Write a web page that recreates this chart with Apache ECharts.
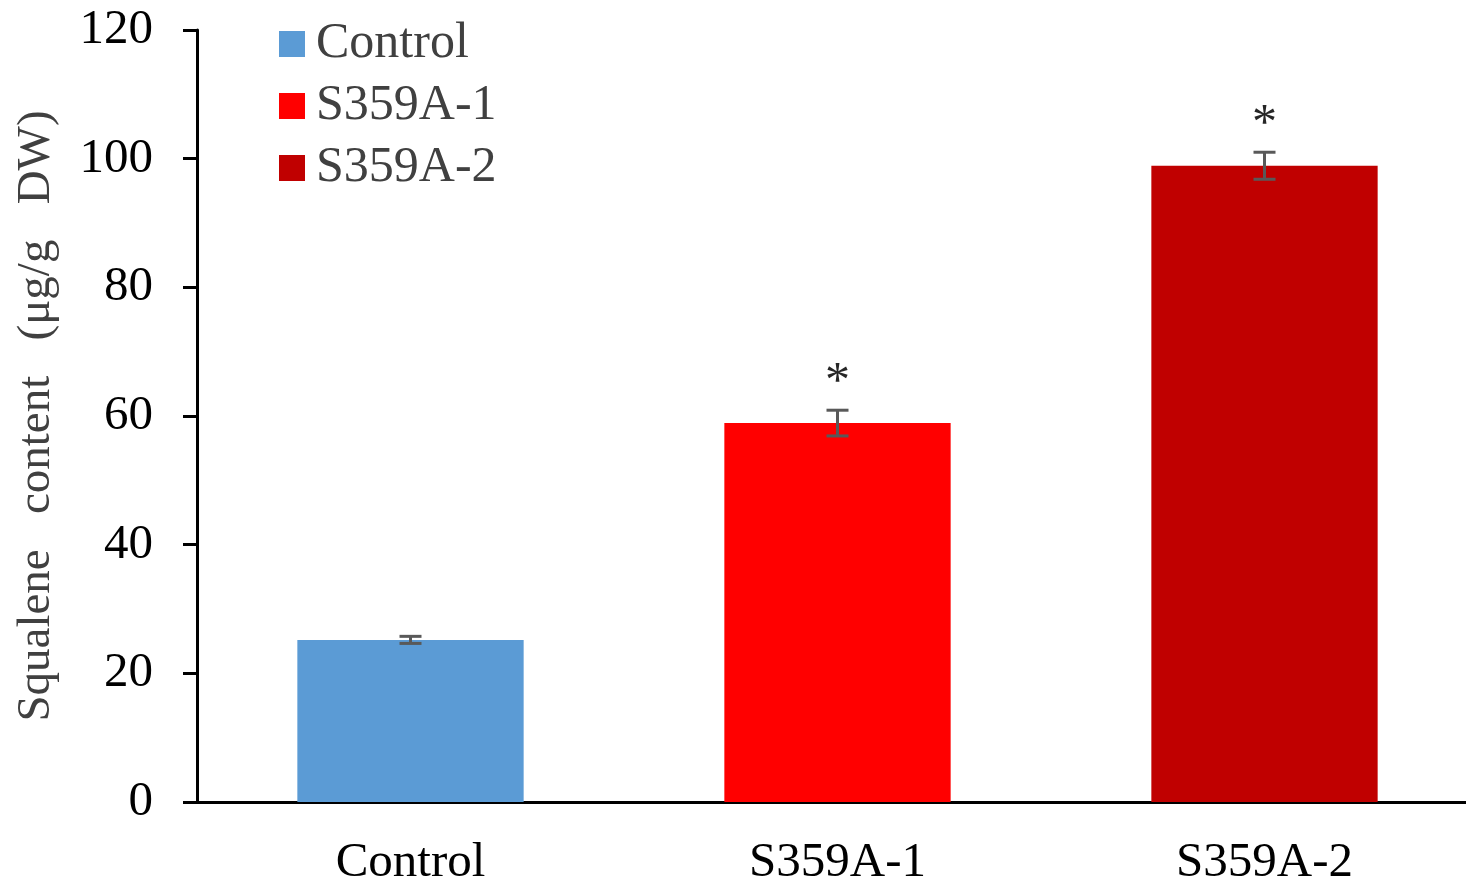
<!DOCTYPE html>
<html lang="en">
<head>
    <meta charset="UTF-8">
    <title>Squalene content</title>
    <script src="https://cdn.jsdelivr.net/npm/echarts@6/dist/echarts.min.js"></script>
    <style>
        html, body { margin: 0; padding: 0; background: #fff; }
        #main { width: 1466px; height: 883px; }
    </style>
</head>
<body>
    <div id="main"></div>
    <script>
        // data
        var categories = ['Control', 'S359A-1', 'S359A-2'];
        var values = [25.2, 58.9, 98.9];
        var errors = [0.55, 2.0, 2.1];
        var marks = ['', '*', '*'];
        var colors = ['#5b9bd5', '#ff0000', '#c00000'];

        var font = '"Liberation Serif", "Times New Roman", serif';
        var myChart = echarts.init(document.getElementById('main'));

        // one bar series per group so the legend gets three entries
        var barSeries = categories.map(function (name, i) {
            return {
                name: name,
                type: 'bar',
                barWidth: '53%',
                barGap: '-100%',
                itemStyle: { color: colors[i] },
                data: categories.map(function (c, j) { return j === i ? values[j] : '-'; })
            };
        });

        var errData = categories.map(function (c, i) {
            return [i, values[i], errors[i], marks[i]];
        });

        var option = {
            animation: false,
            grid: { left: 197, right: -12, top: 30, bottom: 81, containLabel: false, outerBoundsMode: 'none' },
            legend: {
                orient: 'vertical',
                left: 274,
                top: 14,
                itemWidth: 26,
                itemHeight: 26,
                itemGap: 12,
                icon: 'rect',
                textStyle: { fontFamily: font, fontSize: 50, color: '#404040', lineHeight: 50, padding: [0, 0, 0, 6] },
                data: categories
            },
            xAxis: {
                type: 'category',
                data: categories,
                axisLine: { lineStyle: { color: '#000', width: 3 } },
                axisTick: { show: false },
                axisLabel: { margin: 37, fontFamily: font, fontSize: 49, color: '#000' }
            },
            yAxis: {
                type: 'value',
                min: 0,
                max: 120,
                interval: 20,
                name: 'Squalene   content   (μg/g   DW)',
                nameLocation: 'middle',
                nameGap: 137,
                nameTextStyle: { fontFamily: font, fontSize: 47, color: '#404040' },
                axisLine: { show: true, lineStyle: { color: '#000', width: 3 } },
                axisTick: { show: true, length: 14, lineStyle: { color: '#000', width: 3 } },
                splitLine: { show: false },
                axisLabel: { margin: 44, fontFamily: font, fontSize: 49, color: '#000' }
            },
            series: barSeries.concat([{
                type: 'custom',
                name: 'err',
                z: 10,
                data: errData,
                renderItem: function (params, api) {
                    var x = api.value(0);
                    var v = api.value(1);
                    var e = api.value(2);
                    var top = api.coord([x, v + e]);
                    var bot = api.coord([x, v - e]);
                    var cap = 11;
                    var style = { stroke: '#595959', lineWidth: 3 };
                    var children = [
                        { type: 'line', shape: { x1: top[0], y1: top[1], x2: bot[0], y2: bot[1] }, style: style },
                        { type: 'line', shape: { x1: top[0] - cap, y1: top[1], x2: top[0] + cap, y2: top[1] }, style: style },
                        { type: 'line', shape: { x1: bot[0] - cap, y1: bot[1], x2: bot[0] + cap, y2: bot[1] }, style: style }
                    ];
                    var m = errData[params.dataIndex][3];
                    if (m) {
                        children.push({
                            type: 'text',
                            style: {
                                text: m, x: top[0], y: top[1] - 2,
                                align: 'center', verticalAlign: 'bottom',
                                font: '50px ' + font, fill: '#262626'
                            }
                        });
                    }
                    return { type: 'group', children: children };
                }
            }])
        };

        myChart.setOption(option);
        window.addEventListener('resize', function () {
            myChart.resize();
        });
    </script>
</body>
</html>
